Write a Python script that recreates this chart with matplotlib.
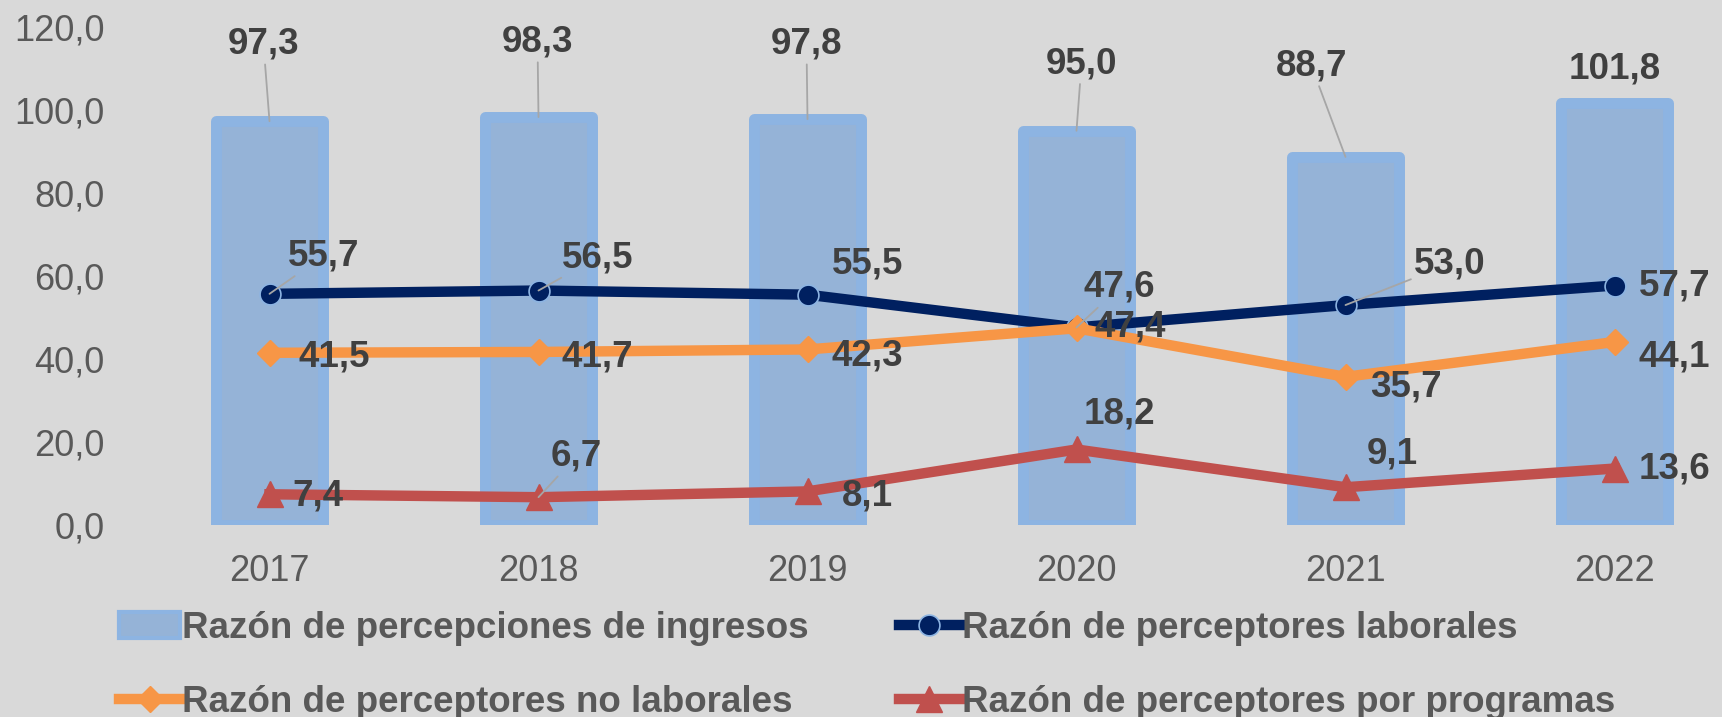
import numpy as np
import matplotlib
matplotlib.use("Agg")
import matplotlib.pyplot as plt
from matplotlib.patches import Patch

plt.rcParams['font.family'] = ['Liberation Sans', 'DejaVu Sans']

# datos
years = ['2017', '2018', '2019', '2020', '2021', '2022']
ingresos = [97.3, 98.3, 97.8, 95.0, 88.7, 101.8]
laborales = [55.7, 56.5, 55.5, 47.6, 53.0, 57.7]
no_laborales = [41.5, 41.7, 42.3, 47.4, 35.7, 44.1]
programas = [7.4, 6.7, 8.1, 18.2, 9.1, 13.6]
y_ticks = [0, 20, 40, 60, 80, 100, 120]

series_names = ['Razón de percepciones de ingresos', 'Razón de perceptores laborales',
                'Razón de perceptores no laborales', 'Razón de perceptores por programas']

# desplazamientos de etiquetas (pixeles) y si llevan línea guía
off_ing = [(-6, 77), (-1, 75), (-1, 75), (5, 67), (-34, 91), (0, 34)]
lead_ing = [1, 1, 1, 1, 1, 0]
off_lab = [(54, 38), (59, 33), (60, 31), (43, 40), (104, 41), (60, 0)]
lead_lab = [1, 1, 0, 1, 1, 0]
off_nol = [(65, -4), (59, -5), (60, -7), (54, 1), (60, -10), (60, -15)]
lead_nol = [0, 0, 0, 0, 0, 0]
off_pro = [(48, -2), (38, 41), (60, -5), (43, 35), (47, 33), (60, 0)]
lead_pro = [0, 1, 0, 0, 0, 0]

bg = '#D9D9D9'
c_bar, c_bar_edge = '#95B3D7', '#8DB4E2'
c_lab, c_nol, c_pro = '#002060', '#F79646', '#C0504D'
txt_dark = '#404040'
txt_gray = '#595959'

fig = plt.figure(figsize=(17.22, 7.17), dpi=100, facecolor=bg)
ax = fig.add_axes([135 / 1722, 192 / 717, 6 * 269 / 1722, 498 / 717])
ax.set_facecolor(bg)

x = np.arange(len(years))
ax.bar(x, ingresos, width=0.40, color=c_bar, edgecolor=c_bar_edge, linewidth=7.9,
       joinstyle='round', zorder=1)
l1, = ax.plot(x, laborales, color=c_lab, lw=7.5, marker='o', ms=15, mfc=c_lab,
              mec='#8DB4E2', mew=1.2, zorder=3)
l2, = ax.plot(x, no_laborales, color=c_nol, lw=7.5, marker='D', ms=13.5, mfc=c_nol,
              mec=c_nol, zorder=4)
l3, = ax.plot(x, programas, color=c_pro, lw=7.5, marker='^', ms=19, mfc=c_pro,
              mec=c_pro, zorder=5)

ax.set_xlim(-0.5, 5.5)
ax.set_ylim(0, 120)
ax.set_xticks(x)
ax.set_xticklabels(years)
ax.set_yticks(y_ticks)
ax.set_yticklabels([f'{v:.1f}'.replace('.', ',') for v in y_ticks])
ax.tick_params(axis='both', length=0, labelsize=26, labelcolor=txt_gray)
ax.tick_params(axis='y', pad=22)
ax.tick_params(axis='x', pad=21)
for s in ax.spines.values():
    s.set_visible(False)


def etiquetas(vals, offs, leads):
    for i, v in enumerate(vals):
        props = None
        if leads[i]:
            props = dict(arrowstyle='-', color='#A6A6A6', lw=1.3, shrinkA=0, shrinkB=0)
        ax.annotate(f'{v:.1f}'.replace('.', ','), xy=(i, v), xytext=offs[i],
                    textcoords='offset pixels', ha='center', va='center',
                    fontsize=26.5, fontweight='bold', color=txt_dark,
                    arrowprops=props, zorder=6, annotation_clip=False)


etiquetas(ingresos, off_ing, lead_ing)
etiquetas(laborales, off_lab, lead_lab)
etiquetas(no_laborales, off_nol, lead_nol)
etiquetas(programas, off_pro, lead_pro)

bar_handle = Patch(facecolor=c_bar, edgecolor=c_bar_edge, linewidth=3)
handles = [bar_handle, l2, l1, l3]
labels = [series_names[0], series_names[2], series_names[1], series_names[3]]
fig.legend(handles, labels, ncol=2, loc='upper left', bbox_to_anchor=(119 / 1722, 0.148),
           frameon=False, prop=dict(size=26.5, weight='bold'), labelcolor=txt_gray,
           handlelength=1.66, handletextpad=0.05, columnspacing=2.45, labelspacing=1.05,
           borderpad=0, borderaxespad=0)

fig.savefig('out.png', dpi=100, facecolor=bg)
